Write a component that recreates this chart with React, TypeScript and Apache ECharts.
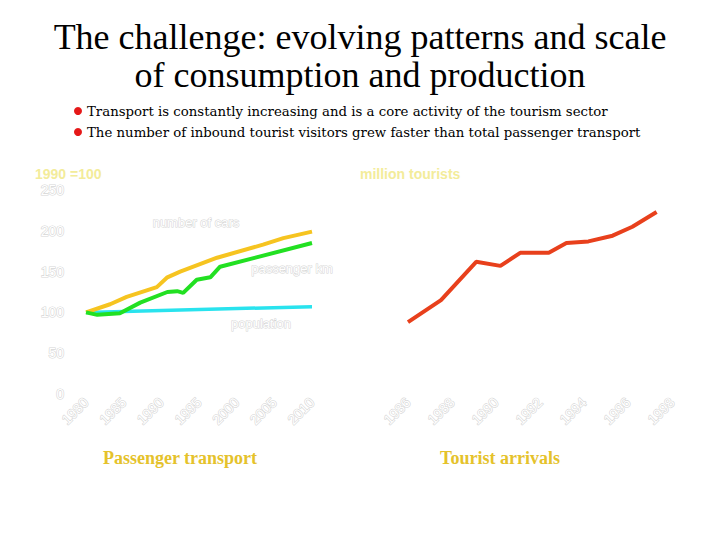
import { useEffect, useRef } from "react";
import * as echarts from "echarts";

// Left panel: passenger transport index (1990 = 100)
const transportTicks = { min: 1980, max: 2010, step: 5 };
const indexTicks = { min: 0, max: 250, step: 50 };
const carsYears = [1980, 1983.2, 1985.4, 1989.4, 1990.8, 1992.5, 1997.4, 2003.5, 2006.2, 2010];
const carsValues = [100, 110, 119, 131, 143, 150, 167, 183, 191, 199];
const passengerKmYears = [1980, 1981.5, 1984.5, 1987.2, 1990.8, 1992.1, 1992.9, 1994.7, 1996.5, 1997.8, 2010];
const passengerKmValues = [100, 97, 99, 112, 125, 126, 124, 140, 143, 156, 185];
const populationYears = [1980, 2010];
const populationValues = [100, 107];

// Right panel: tourist arrivals (million tourists)
const arrivalTicks = { min: 1986, max: 1998, step: 2 };
const arrivalYears = [1986, 1987.5, 1989.1, 1990.2, 1991.1, 1992.4, 1993.2, 1994.2, 1995.3, 1996.2, 1997.3];
const arrivalValues = [88, 115, 162, 157, 173, 173, 185, 187, 194, 205, 223];

const titleLines = [
  "The challenge: evolving patterns and scale",
  "of consumption and production",
];
const bullets = [
  "Transport is constantly increasing and is a core activity of the tourism sector",
  "The number of inbound tourist visitors grew faster than total passenger transport",
];
const seriesNames = ["number of cars", "passenger km", "population"];
const unitLabels = ["1990 =100", "million tourists"];
const panelCaptions = ["Passenger transport", "Tourist arrivals"];

const zip = (xs: number[], ys: number[]) => xs.map((x, i) => [x, ys[i]]);

const faintLabel = {
  color: "#ffffff",
  textBorderColor: "#d6d6d6",
  textBorderWidth: 1.2,
  fontSize: 14,
  fontFamily: "'Liberation Sans', Arial, sans-serif",
};

export default function App() {
  const ref = useRef<HTMLDivElement>(null);
  useEffect(() => {
    document.body.style.margin = "0";
    if (!ref.current) return;
    const chart = echarts.init(ref.current, null, { renderer: "svg" });
    const faintText = (text: string, x: number, y: number, align = "center") => ({
      type: "text",
      x,
      y,
      silent: true,
      style: {
        text,
        align,
        verticalAlign: "middle",
        font: "13px 'Liberation Sans', Arial, sans-serif",
        fill: "#ffffff",
        stroke: "#d4d4d4",
        lineWidth: 1,
      },
    });
    const unitText = (text: string, x: number) => ({
      type: "text",
      x,
      y: 174,
      silent: true,
      style: {
        text,
        align: "left",
        verticalAlign: "middle",
        font: "bold 14px 'Liberation Sans', Arial, sans-serif",
        fill: "#f3ec9a",
      },
    });
    const option: any = {
      animation: false,
      backgroundColor: "#ffffff",
      grid: [
        { left: 86, top: 190, width: 226, height: 204 },
        { left: 408, top: 190, width: 264, height: 204 },
      ],
      xAxis: [
        {
          type: "value",
          gridIndex: 0,
          min: transportTicks.min,
          max: transportTicks.max,
          interval: transportTicks.step,
          axisLine: { show: false },
          axisTick: { show: false },
          splitLine: { show: false },
          axisLabel: { ...faintLabel, rotate: 45, margin: 6, formatter: (v: number) => String(v) },
        },
        {
          type: "value",
          gridIndex: 1,
          min: arrivalTicks.min,
          max: arrivalTicks.max,
          interval: arrivalTicks.step,
          axisLine: { show: false },
          axisTick: { show: false },
          splitLine: { show: false },
          axisLabel: { ...faintLabel, rotate: 45, margin: 6, formatter: (v: number) => String(v) },
        },
      ],
      yAxis: [
        {
          type: "value",
          gridIndex: 0,
          min: indexTicks.min,
          max: indexTicks.max,
          interval: indexTicks.step,
          axisLine: { show: false },
          axisTick: { show: false },
          splitLine: { show: false },
          axisLabel: { ...faintLabel, margin: 22 },
        },
        {
          type: "value",
          gridIndex: 1,
          min: indexTicks.min,
          max: indexTicks.max,
          show: false,
          splitLine: { show: false },
        },
      ],
      series: [
        {
          type: "line",
          name: seriesNames[2],
          xAxisIndex: 0,
          yAxisIndex: 0,
          data: zip(populationYears, populationValues),
          showSymbol: false,
          lineStyle: { color: "#29e3ee", width: 3.5 },
          itemStyle: { color: "#29e3ee" },
        },
        {
          type: "line",
          name: seriesNames[0],
          xAxisIndex: 0,
          yAxisIndex: 0,
          data: zip(carsYears, carsValues),
          showSymbol: false,
          lineStyle: { color: "#f6c420", width: 4 },
          itemStyle: { color: "#f6c420" },
        },
        {
          type: "line",
          name: seriesNames[1],
          xAxisIndex: 0,
          yAxisIndex: 0,
          data: zip(passengerKmYears, passengerKmValues),
          showSymbol: false,
          lineStyle: { color: "#22e022", width: 4 },
          itemStyle: { color: "#22e022" },
        },
        {
          type: "line",
          name: "tourist arrivals",
          xAxisIndex: 1,
          yAxisIndex: 1,
          data: zip(arrivalYears, arrivalValues),
          showSymbol: false,
          lineStyle: { color: "#e8401c", width: 4 },
          itemStyle: { color: "#e8401c" },
        },
      ],
      graphic: [
        ...titleLines.map((t, i) => ({
          type: "text",
          x: 360,
          y: 37 + i * 38,
          silent: true,
          style: {
            text: t,
            align: "center",
            verticalAlign: "middle",
            font: "36px 'Liberation Serif', 'Times New Roman', serif",
            fill: "#000000",
          },
        })),
        ...bullets.flatMap((b, i) => [
          {
            type: "circle",
            silent: true,
            shape: { cx: 78, cy: 111 + i * 21, r: 4 },
            style: { fill: "#e51818" },
          },
          {
            type: "text",
            x: 87,
            y: 111 + i * 21,
            silent: true,
            style: {
              text: b,
              align: "left",
              verticalAlign: "middle",
              font: "13.3px 'DejaVu Serif', serif",
              fill: "#000000",
            },
          },
        ]),
        unitText(unitLabels[0], 35),
        unitText(unitLabels[1], 360),
        faintText(seriesNames[0], 196, 222),
        faintText(seriesNames[1], 292, 268),
        faintText(seriesNames[2], 261, 323),
        ...panelCaptions.map((c, i) => ({
          type: "text",
          x: i === 0 ? 180 : 500,
          y: 458,
          silent: true,
          style: {
            text: c,
            align: "center",
            verticalAlign: "middle",
            font: "bold 18px 'Liberation Serif', 'Times New Roman', serif",
            fill: "#e5c22b",
          },
        })),
      ],
    };
    chart.setOption(option);
    return () => chart.dispose();
  }, []);
  return <div ref={ref} style={{ width: 720, height: 540 }} />;
}
